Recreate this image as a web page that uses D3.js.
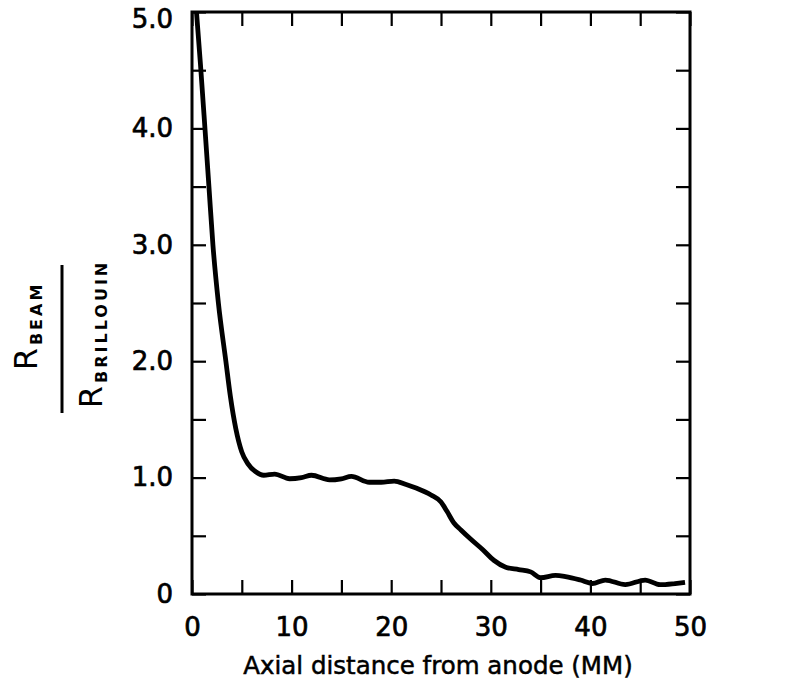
<!DOCTYPE html>
<html>
<head>
<meta charset="utf-8">
<script src="https://cdn.jsdelivr.net/npm/d3@7"></script>
<style>
  body { margin: 0; background: #fff; }
  svg text { font-family: "DejaVu Sans", sans-serif; fill: #000; }
  .lbl { stroke: #000; stroke-width: 0.7px; }
</style>
</head>
<body>
<div class="chart"></div>
<script>
// axial distance (mm) and beam radius ratio
var distance = [0.45, 0.85, 1.3, 1.7, 2.1, 2.65, 3.4, 3.85, 4.4, 5.0, 5.6, 6.4, 7.2, 8.3, 9.8, 11.0, 12.0, 13.8, 15.0, 16.0, 17.8, 19.0, 20.3, 21.5, 22.5, 24.0, 25.0, 25.6, 26.3, 27.0, 28.0, 29.2, 30.3, 31.5, 32.8, 34.0, 35.0, 36.5, 37.5, 39.0, 40.2, 41.5, 43.5, 45.5, 47.0, 48.5, 49.5];
var ratio = [5.0, 4.55, 4.0, 3.5, 3.0, 2.5, 2.0, 1.7, 1.42, 1.22, 1.12, 1.05, 1.02, 1.03, 0.99, 1.0, 1.02, 0.98, 0.99, 1.01, 0.96, 0.96, 0.97, 0.94, 0.91, 0.85, 0.79, 0.71, 0.61, 0.55, 0.47, 0.38, 0.29, 0.23, 0.21, 0.19, 0.14, 0.16, 0.15, 0.12, 0.09, 0.12, 0.08, 0.12, 0.08, 0.09, 0.10];

var xLabels = [0, 10, 20, 30, 40, 50];
var yLabels = [0, 1, 2, 3, 4, 5];
var xMinor = d3.range(0, 51, 5);
var yMinor = d3.range(0, 5.01, 0.5);

//svg dims
var width = 794;
var height = 691;
var mLeft = 192, mRight = 690, mTop = 12, mBottom = 594;

var svg = d3.select(".chart")
            .append("svg")
            .attr("width", width)
            .attr("height", height);

var xScale = d3.scaleLinear().domain([0, 50]).range([mLeft, mRight]);
var yScale = d3.scaleLinear().domain([0, 5]).range([mBottom, mTop]);

//inward ticks on all four sides
var tickLen = 14;
var axes = [
  { axis: d3.axisBottom(xScale).tickValues(xMinor), t: `translate(0, ${mBottom})` },
  { axis: d3.axisTop(xScale).tickValues(xMinor), t: `translate(0, ${mTop})` },
  { axis: d3.axisLeft(yScale).tickValues(yMinor), t: `translate(${mLeft}, 0)` },
  { axis: d3.axisRight(yScale).tickValues(yMinor), t: `translate(${mRight}, 0)` }
];
axes.forEach(a => {
  var g = svg.append("g")
    .attr("transform", a.t)
    .call(a.axis.tickSize(-tickLen).tickFormat(""));
  g.select(".domain").remove();
  g.selectAll("line").attr("stroke", "#000").attr("stroke-width", 2.2);
});

//labels
var xAx = svg.append("g")
  .attr("transform", `translate(0, ${mBottom})`)
  .call(d3.axisBottom(xScale).tickValues(xLabels).tickSize(0).tickPadding(24).tickFormat(d3.format("d")));
xAx.select(".domain").remove();
xAx.selectAll("text").attr("class", "lbl").style("font-size", "26px");

var yAx = svg.append("g")
  .attr("transform", `translate(${mLeft}, 0)`)
  .call(d3.axisLeft(yScale).tickValues(yLabels).tickSize(0).tickPadding(19)
    .tickFormat(d => d === 0 ? "0" : d3.format(".1f")(d)));
yAx.select(".domain").remove();
yAx.selectAll("text").attr("class", "lbl").style("font-size", "26px");
//top label sits a little low in the original
yAx.selectAll("text").filter(d => d === 5).attr("dy", "0.58em");

//frame
svg.append("rect")
  .attr("x", mLeft).attr("y", mTop)
  .attr("width", mRight - mLeft).attr("height", mBottom - mTop)
  .attr("fill", "none").attr("stroke", "#000").attr("stroke-width", 3);

//curve
var points = distance.map((d, i) => [d, ratio[i]]);
var line = d3.line()
  .x(d => xScale(d[0]))
  .y(d => yScale(d[1]))
  .curve(d3.curveMonotoneX);
svg.append("path")
  .datum(points)
  .attr("d", line)
  .attr("fill", "none")
  .attr("stroke", "#000")
  .attr("stroke-width", 4.8)
  .attr("stroke-linejoin", "round");

//x title
svg.append("text")
  .attr("class", "lbl")
  .attr("x", (mLeft + mRight) / 2 - 3)
  .attr("y", 674)
  .attr("text-anchor", "middle")
  .style("font-size", "24.5px")
  .style("stroke-width", "0.5px")
  .text("Axial distance from anode (MM)");

//y title as fraction
var num = svg.append("text")
  .attr("transform", "translate(37, 326) rotate(-90)")
  .attr("text-anchor", "middle");
num.append("tspan").style("font-size", "32px").text("R");
num.append("tspan").attr("dy", 5).attr("dx", 3).style("font-size", "16px").style("font-weight", "bold")
  .style("letter-spacing", "3px").text("BEAM");

svg.append("line")
  .attr("x1", 62).attr("x2", 62)
  .attr("y1", 265).attr("y2", 413)
  .attr("stroke", "#000").attr("stroke-width", 3);

var den = svg.append("text")
  .attr("transform", "translate(102, 334) rotate(-90)")
  .attr("text-anchor", "middle");
den.append("tspan").style("font-size", "32px").text("R");
den.append("tspan").attr("dy", 5).attr("dx", 3).style("font-size", "16px").style("font-weight", "bold")
  .style("letter-spacing", "3px").text("BRILLOUIN");
</script>
</body>
</html>
